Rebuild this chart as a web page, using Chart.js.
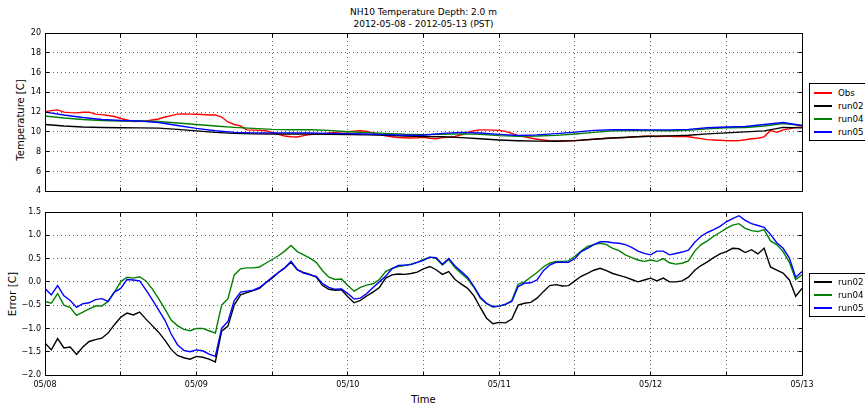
<!DOCTYPE html>
<html><head><meta charset="utf-8">
<script src="https://cdn.jsdelivr.net/npm/chart.js@4/dist/chart.umd.min.js"></script>
<style>
html,body{margin:0;padding:0;background:#fff;}
body{width:865px;height:410px;overflow:hidden;position:relative;font-family:"DejaVu Sans",sans-serif;color:#000;}
canvas{position:absolute;left:0;}
.txt{position:absolute;white-space:nowrap;}
.legend{position:absolute;border:1px solid #000;background:#fff;box-sizing:border-box;width:62px;}
.row{position:absolute;left:0;height:12px;width:60px;font-size:8.7px;line-height:12px;}
.row .sw{position:absolute;left:4px;top:5px;width:18px;height:2px;}
.row .lb{position:absolute;left:28px;top:0;}
</style></head><body>
<div class="txt" id="title" style="left:423.5px;top:5.5px;transform:translateX(-50%);text-align:center;font-size:9px;line-height:12.3px;">NH10 Temperature Depth: 2.0 m<br>2012-05-08 - 2012-05-13 (PST)</div>
<div class="txt" id="ylab1" style="left:20px;top:120px;transform:translate(-50%,-50%) rotate(-90deg);font-size:10px;">Temperature [C]</div>
<div class="txt" id="ylab2" style="left:12px;top:293.5px;transform:translate(-50%,-50%) rotate(-90deg);font-size:10.5px;">Error [C]</div>
<div class="txt" id="xlab" style="left:423.5px;top:399px;transform:translate(-50%,-50%);font-size:10px;">Time</div>
<canvas id="c1" width="865" height="200" style="top:0"></canvas>
<canvas id="c2" width="865" height="210" style="top:200px"></canvas>
<div class="legend" id="leg1" style="left:809px;top:83px;height:58px;"></div>
<div class="legend" id="leg2" style="left:809px;top:273px;height:44px;"></div>
<script>
// ---- time axis (hours since 2012-05-08 00:00 PST) ----
const hours = Array.from({length: 121}, (_, i) => i);       // hourly samples
const tempHours = Array.from({length: 41}, (_, i) => i * 3); // 3-hourly samples

const xTickStep = 12;
const dayLabels = ['05/08', '05/09', '05/10', '05/11', '05/12', '05/13'];
const tempTicks = [4, 6, 8, 10, 12, 14, 16, 18, 20];
const errTicks = [-2.0, -1.5, -1.0, -0.5, 0.0, 0.5, 1.0, 1.5];

// ---- temperature [C] ----
const obsTemp = [12.05,12.15,12.22,12.0,11.95,11.92,11.98,12.0,11.8,11.75,11.65,11.55,11.35,11.2,11.05,11.08,11.1,11.2,11.3,11.5,
11.65,11.8,11.82,11.8,11.78,11.75,11.7,11.72,11.5,11.0,10.75,10.6,10.2,10.18,10.15,10.12,9.95,9.75,9.58,9.5,
9.48,9.62,9.72,9.78,9.8,9.88,9.95,10.0,10.02,10.08,10.12,10.05,9.9,9.75,9.6,9.5,9.42,9.4,9.38,9.4,
9.45,9.35,9.3,9.42,9.45,9.55,9.7,9.95,10.12,10.2,10.2,10.18,10.15,10.05,9.85,9.62,9.5,9.38,9.25,9.18,
9.1,9.08,9.08,9.1,9.12,9.15,9.22,9.26,9.3,9.35,9.38,9.4,9.42,9.48,9.52,9.55,9.55,9.52,9.55,9.56,
9.53,9.54,9.5,9.4,9.32,9.22,9.18,9.15,9.12,9.1,9.12,9.2,9.3,9.35,9.5,10.15,9.95,10.2,10.3,10.45,10.5];
const run02Temp = [10.75,10.6,10.5,10.45,10.42,10.4,10.38,10.25,10.1,9.95,9.85,9.8,9.78,9.78,9.78,9.76,9.74,9.7,9.65,9.58,
9.52,9.5,9.42,9.3,9.18,9.1,9.06,9.05,9.12,9.25,9.38,9.48,9.55,9.6,9.66,9.8,9.9,10.0,10.1,10.45,10.4];
const run04Temp = [11.6,11.4,11.25,11.15,11.1,11.1,11.05,10.9,10.75,10.6,10.45,10.35,10.25,10.22,10.22,10.15,10.02,9.92,9.85,9.76,
9.72,9.76,9.8,9.76,9.62,9.55,9.58,9.65,9.78,9.95,10.1,10.13,10.13,10.12,10.15,10.3,10.42,10.45,10.6,10.85,10.65];
const run05Temp = [12.0,11.7,11.45,11.25,11.15,11.1,10.95,10.65,10.35,10.12,9.95,9.9,9.9,9.9,9.9,9.85,9.82,9.78,9.72,9.66,
9.66,9.85,9.95,9.88,9.75,9.64,9.7,9.82,9.98,10.15,10.22,10.22,10.2,10.2,10.25,10.42,10.5,10.55,10.75,10.95,10.65];

// ---- model error [C] ----
const run02Err = [-1.31,-1.46,-1.22,-1.42,-1.40,-1.56,-1.40,-1.28,-1.24,-1.21,-1.10,-0.92,-0.76,-0.67,-0.71,-0.65,-0.80,-0.94,-1.08,-1.25,
-1.45,-1.58,-1.63,-1.66,-1.60,-1.62,-1.66,-1.72,-1.06,-0.95,-0.50,-0.28,-0.23,-0.19,-0.14,-0.02,0.08,0.20,0.30,0.42,
0.26,0.20,0.16,0.10,-0.08,-0.16,-0.18,-0.17,-0.32,-0.45,-0.40,-0.30,-0.22,-0.12,0.08,0.15,0.17,0.16,0.18,0.21,
0.28,0.33,0.26,0.16,0.22,0.05,-0.05,-0.14,-0.30,-0.55,-0.78,-0.90,-0.87,-0.88,-0.80,-0.50,-0.46,-0.44,-0.35,-0.21,
-0.08,-0.06,-0.09,-0.08,0.02,0.12,0.18,0.25,0.29,0.24,0.18,0.14,0.10,0.05,0.00,0.04,0.08,0.02,0.08,0.00,
0.00,0.02,0.10,0.25,0.35,0.43,0.52,0.60,0.65,0.72,0.71,0.63,0.69,0.60,0.72,0.32,0.25,0.19,0.04,-0.31,-0.14];
const run04Err = [-0.42,-0.46,-0.25,-0.50,-0.55,-0.72,-0.65,-0.58,-0.52,-0.52,-0.42,-0.22,0.00,0.10,0.08,0.11,0.02,-0.15,-0.36,-0.58,
-0.82,-0.94,-1.02,-1.05,-1.00,-1.00,-1.05,-1.10,-0.50,-0.36,0.15,0.28,0.30,0.30,0.32,0.40,0.48,0.56,0.66,0.78,
0.65,0.58,0.51,0.42,0.24,0.10,0.05,0.06,-0.08,-0.20,-0.12,-0.07,-0.04,0.05,0.22,0.29,0.33,0.35,0.38,0.42,
0.48,0.53,0.50,0.36,0.48,0.30,0.18,0.06,-0.12,-0.35,-0.47,-0.54,-0.52,-0.49,-0.40,-0.05,0.00,0.10,0.20,0.32,
0.40,0.44,0.44,0.45,0.55,0.66,0.76,0.80,0.83,0.80,0.72,0.67,0.58,0.52,0.47,0.44,0.47,0.44,0.50,0.41,
0.38,0.40,0.45,0.66,0.80,0.88,0.98,1.06,1.15,1.22,1.25,1.15,1.10,1.08,1.12,0.88,0.80,0.65,0.42,0.05,0.15];
const run05Err = [-0.14,-0.28,-0.08,-0.30,-0.40,-0.55,-0.47,-0.45,-0.38,-0.36,-0.42,-0.22,-0.14,0.05,0.04,0.02,-0.17,-0.38,-0.60,-0.82,
-1.12,-1.35,-1.47,-1.50,-1.46,-1.48,-1.55,-1.60,-1.00,-0.85,-0.40,-0.22,-0.20,-0.18,-0.12,-0.02,0.10,0.20,0.30,0.44,
0.26,0.19,0.15,0.12,-0.04,-0.12,-0.16,-0.15,-0.25,-0.37,-0.35,-0.25,-0.12,0.00,0.12,0.28,0.35,0.36,0.37,0.42,
0.46,0.53,0.52,0.38,0.50,0.34,0.22,0.10,-0.10,-0.33,-0.46,-0.53,-0.52,-0.48,-0.42,-0.10,-0.03,-0.02,0.04,0.24,
0.36,0.42,0.42,0.42,0.50,0.65,0.72,0.80,0.86,0.86,0.84,0.83,0.80,0.74,0.66,0.61,0.58,0.66,0.66,0.58,
0.61,0.64,0.68,0.85,0.98,1.06,1.12,1.19,1.29,1.36,1.42,1.32,1.25,1.21,1.17,1.02,0.84,0.72,0.51,0.10,0.22];

// ---- series labels / colours ----
const labels = ['Obs', 'run02', 'run04', 'run05'];
const colors = ['#ff0000', '#000000', '#008000', '#0000ff'];

function pts(xs, ys) { return ys.map((v, i) => ({x: xs[i], y: v})); }
function line(label, xs, ys, order) {
  const c = colors[labels.indexOf(label)];
  return {label, data: pts(xs, ys), borderColor: c, backgroundColor: c, borderWidth: 1.4,
          pointRadius: 0, fill: false, tension: 0, order};
}

const tickFont = {family: '"DejaVu Sans", sans-serif', size: 8};
function align(p) { return Math.round(p - 0.5) + 0.5; }

const frame = {
  id: 'frame',
  afterDraw(chart) {
    const {ctx, chartArea: a, scales: {x, y}} = chart;
    ctx.save();
    ctx.strokeStyle = '#000';
    ctx.lineWidth = 1;
    ctx.beginPath();
    const L = align(a.left), R = align(a.right), T = align(a.top), B = align(a.bottom);
    ctx.rect(L, T, R - L, B - T);
    x.ticks.forEach(t => {
      const px = align(x.getPixelForValue(t.value));
      ctx.moveTo(px, T); ctx.lineTo(px, T + 4);
      ctx.moveTo(px, B); ctx.lineTo(px, B - 4);
    });
    y.ticks.forEach(t => {
      const py = align(y.getPixelForValue(t.value));
      ctx.moveTo(L, py); ctx.lineTo(L + 4, py);
      ctx.moveTo(R, py); ctx.lineTo(R - 4, py);
    });
    ctx.stroke();
    ctx.restore();
  }
};

const gridCol = 'rgba(0,0,0,0.6)';
function xScale(showLabels, height) {
  return {
    type: 'linear', min: 0, max: 120,
    ticks: {display: showLabels, stepSize: xTickStep, autoSkip: false, maxRotation: 0, padding: 5,
            font: tickFont, color: '#000',
            callback: v => (v % 24 === 0 ? dayLabels[v / 24] : '')},
    grid: {color: gridCol, lineWidth: 1, drawTicks: false},
    border: {display: false, dash: [1, 3]},
    afterFit: s => { s.height = height; }
  };
}
function yScale(ticks, fmt) {
  return {
    min: ticks[0], max: ticks[ticks.length - 1],
    afterBuildTicks: s => { s.ticks = ticks.map(v => ({value: v})); },
    ticks: {font: tickFont, color: '#000', padding: 4, callback: fmt},
    grid: {color: gridCol, lineWidth: 1, drawTicks: false},
    border: {display: false, dash: [1, 3]},
    afterFit: s => { s.width = 45; }
  };
}
const common = {
  responsive: false, animation: false,
  plugins: {legend: {display: false}, title: {display: false}, tooltip: {enabled: false}},
};

new Chart(document.getElementById('c1'), {
  type: 'line',
  data: {datasets: [
    line('Obs', hours, obsTemp, 4),
    line('run02', tempHours, run02Temp, 3),
    line('run04', tempHours, run04Temp, 2),
    line('run05', tempHours, run05Temp, 1)
  ]},
  options: Object.assign({}, common, {
    layout: {padding: {top: 33, right: 63, bottom: 4, left: 0}},
    scales: {x: xScale(false, 0), y: yScale(tempTicks, v => String(v))}
  }),
  plugins: [frame]
});

new Chart(document.getElementById('c2'), {
  type: 'line',
  data: {datasets: [
    line('run02', hours, run02Err, 3),
    line('run04', hours, run04Err, 2),
    line('run05', hours, run05Err, 1)
  ]},
  options: Object.assign({}, common, {
    layout: {padding: {top: 12, right: 63, bottom: 0, left: 0}},
    scales: {x: xScale(true, 35),
             y: yScale(errTicks, v => (v < 0 ? '\u2212' : '') + Math.abs(v).toFixed(1))}
  }),
  plugins: [frame]
});

// ---- legends (outside, right) ----
function buildLegend(id, names, tops) {
  const el = document.getElementById(id);
  names.forEach((n, i) => {
    const r = document.createElement('div');
    r.className = 'row';
    r.style.top = tops[i] + 'px';
    const sw = document.createElement('div');
    sw.className = 'sw';
    sw.style.backgroundColor = colors[labels.indexOf(n)];
    const lb = document.createElement('span');
    lb.className = 'lb';
    lb.textContent = n;
    r.appendChild(sw); r.appendChild(lb);
    el.appendChild(r);
  });
}
buildLegend('leg1', labels, [3, 16, 29, 42]);
buildLegend('leg2', labels.slice(1), [2, 15, 28]);
</script>
</body></html>
